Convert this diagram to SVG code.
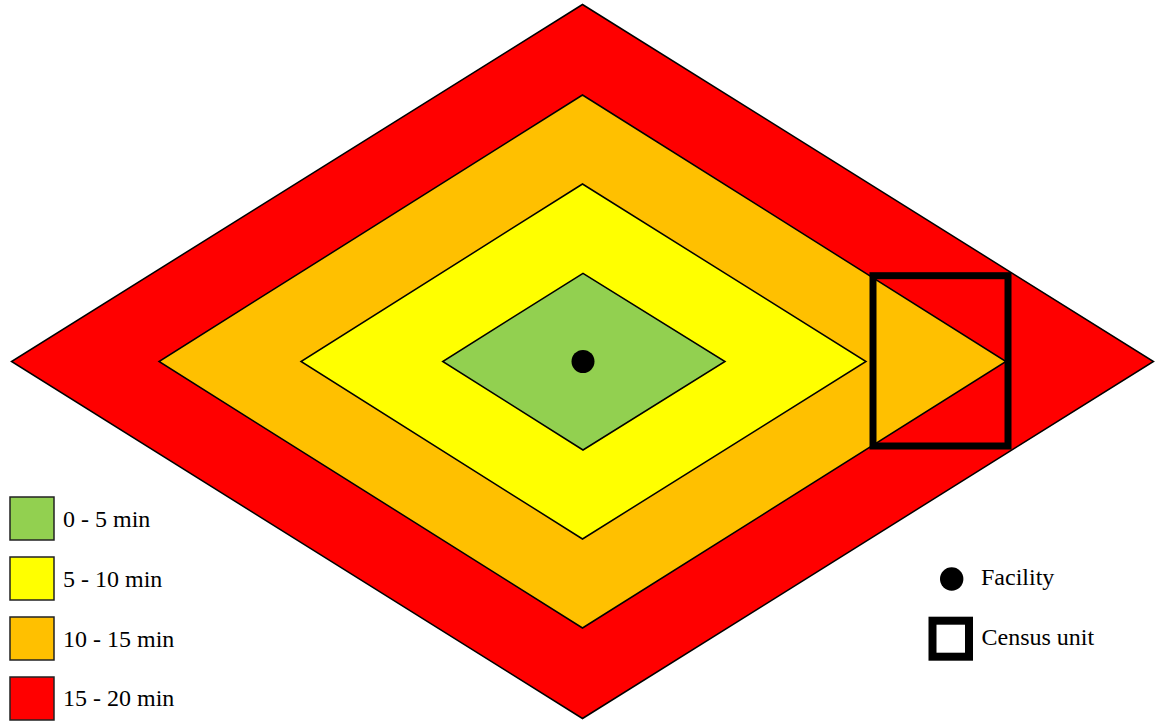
<svg xmlns="http://www.w3.org/2000/svg" width="1156" height="721" viewBox="0 0 1156 721">
<style>
.zone{stroke:#000;stroke-width:1.5;stroke-linejoin:miter}
.lg{stroke:#222;stroke-width:1.5}
.t{font-family:"Liberation Serif","Times New Roman",serif;font-size:24px;fill:#000}
</style>
<rect width="1156" height="721" fill="#fff"/>
<g id="zone-15-20">
<polygon class="zone" fill="#FF0000" points="582.5,4.5 1153.5,361.5 582.5,718.5 11.5,361.5"/>
</g>
<g id="zone-10-15">
<polygon class="zone" fill="#FFC000" points="582.5,95 1006,361.5 582.5,628 159,361.5"/>
</g>
<g id="zone-5-10">
<polygon class="zone" fill="#FFFF00" points="582.5,184 866,361.5 582.5,539 301,361.5"/>
</g>
<g id="zone-0-5">
<polygon class="zone" fill="#92D050" points="583,273.3 725,361.5 583,450 442.7,361.5"/>
</g>
<g id="facility">
<circle cx="583" cy="361.5" r="11.5" fill="#000"/>
</g>
<g id="census-unit">
<rect x="873" y="275.7" width="135" height="170.3" fill="none" stroke="#000" stroke-width="7"/>
</g>
<g id="connectors"></g>
<g id="legend">
<g id="legend-0-5"><rect class="lg" x="10" y="497" width="44" height="43" fill="#92D050"/><text class="t" x="63" y="526.5">0 - 5 min</text></g>
<g id="legend-5-10"><rect class="lg" x="10" y="557" width="44" height="43" fill="#FFFF00"/><text class="t" x="63" y="586.5">5 - 10 min</text></g>
<g id="legend-10-15"><rect class="lg" x="10" y="617" width="44" height="43" fill="#FFC000"/><text class="t" x="63" y="646.5">10 - 15 min</text></g>
<g id="legend-15-20"><rect class="lg" x="10" y="677" width="44" height="43" fill="#FF0000"/><text class="t" x="63" y="706">15 - 20 min</text></g>
<g id="legend-facility"><circle cx="951.7" cy="579" r="11.7" fill="#000"/><text class="t" x="981" y="585">Facility</text></g>
<g id="legend-census"><rect x="932.5" y="620.7" width="36.5" height="36" fill="#fff" stroke="#000" stroke-width="8"/><text class="t" x="981.5" y="645">Census unit</text></g>
</g>
</svg>
